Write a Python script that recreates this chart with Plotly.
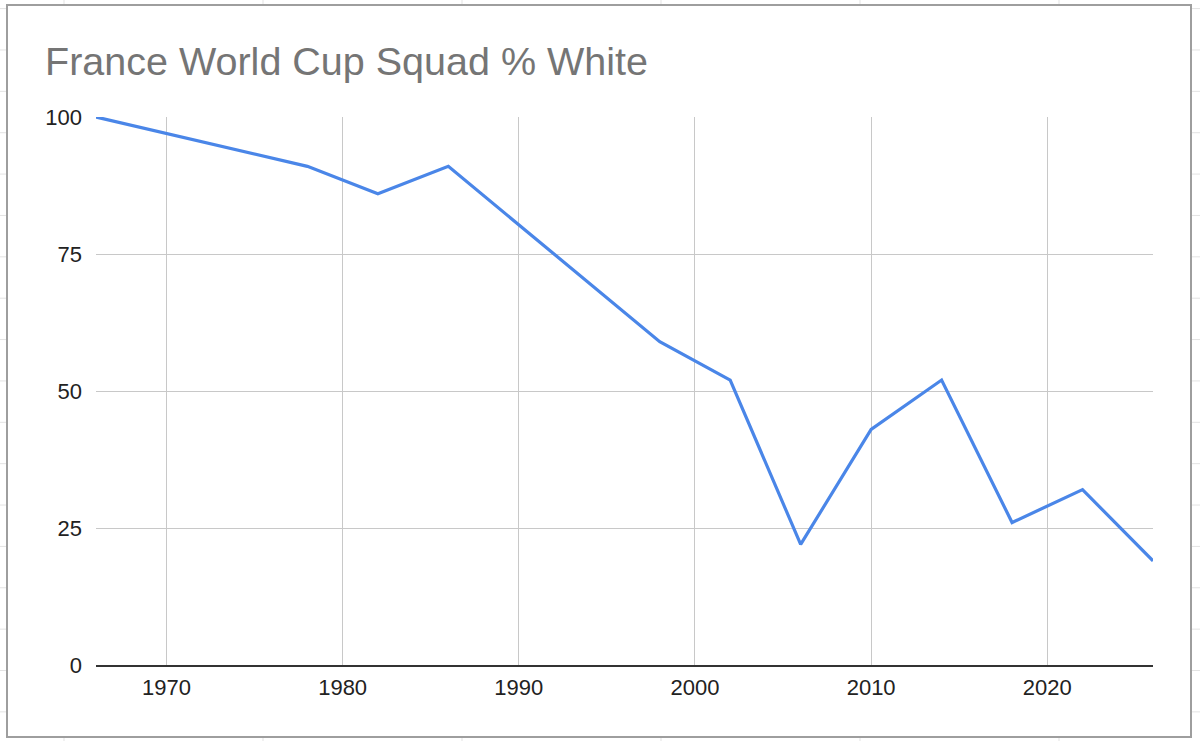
import plotly.graph_objects as go

years = [1966, 1978, 1982, 1986, 1998, 2002, 2006, 2010, 2014, 2018, 2022, 2026]
pct_white = [100, 91, 86, 91, 59, 52, 22, 43, 52, 26, 32, 19]
x_ticks = [1970, 1980, 1990, 2000, 2010, 2020]
y_ticks = [0, 25, 50, 75, 100]
title = "France World Cup Squad % White"

W, H = 1200, 741
L, R, T, B = 96, 1153, 117, 665  # plot area in pixels


def px(x):
    return (x - L) / (R - L)


def py(y):
    return (B - y) / (B - T)


shapes = []
# spreadsheet cell grid behind the chart
sheet_line = dict(color="#e3e3e3", width=1)
for cx in [64, 263, 462, 661, 860, 1059]:
    shapes.append(dict(type="line", xref="paper", yref="paper", layer="below",
                       x0=px(cx), x1=px(cx), y0=py(0), y1=py(H), line=sheet_line))
k = 0
while True:
    ry = 8.6 + 41.37 * k
    if ry > H:
        break
    shapes.append(dict(type="line", xref="paper", yref="paper", layer="below",
                       x0=px(0), x1=px(W), y0=py(ry), y1=py(ry), line=sheet_line))
    k += 1
# chart card
shapes.append(dict(type="rect", xref="paper", yref="paper", layer="below",
                   x0=px(7), x1=px(1191), y0=py(5), y1=py(737),
                   fillcolor="white", line=dict(color="#9e9e9e", width=2)))

fig = go.Figure()
fig.add_trace(go.Scatter(
    x=years, y=pct_white, mode="lines",
    line=dict(color="#4a86e8", width=3.2),
    hoverinfo="x+y", showlegend=False,
))

fig.update_layout(
    width=W, height=H,
    autosize=False,
    margin=dict(l=L, r=W - R, t=T, b=H - B, pad=0),
    paper_bgcolor="white",
    plot_bgcolor="rgba(0,0,0,0)",
    font=dict(family="Liberation Sans, Arial, sans-serif", color="#222222", size=22),
    title=dict(text=title, font=dict(size=39.5, color="#757575",
                                     family="Liberation Sans, Arial, sans-serif"),
               xref="container", x=45 / W, xanchor="left",
               yref="container", y=1 - 61.4 / H, yanchor="middle"),
    shapes=shapes,
    showlegend=False,
)
fig.update_xaxes(
    range=[1966, 2026], tickvals=x_ticks, ticktext=[str(v) for v in x_ticks],
    showgrid=True, gridcolor="#c8c8c8", gridwidth=1,
    showline=True, linecolor="#333333", linewidth=2,
    zeroline=False, ticks="", ticklabelstandoff=2,
    tickfont=dict(size=22, color="#222222"),
)
fig.update_yaxes(
    range=[0, 100], tickvals=y_ticks, ticktext=[str(v) for v in y_ticks],
    showgrid=True, gridcolor="#c8c8c8", gridwidth=1,
    zeroline=False, showline=False, ticks="",
    ticklabelstandoff=13,
    tickfont=dict(size=22, color="#222222"),
)

fig.write_html("out.html")
